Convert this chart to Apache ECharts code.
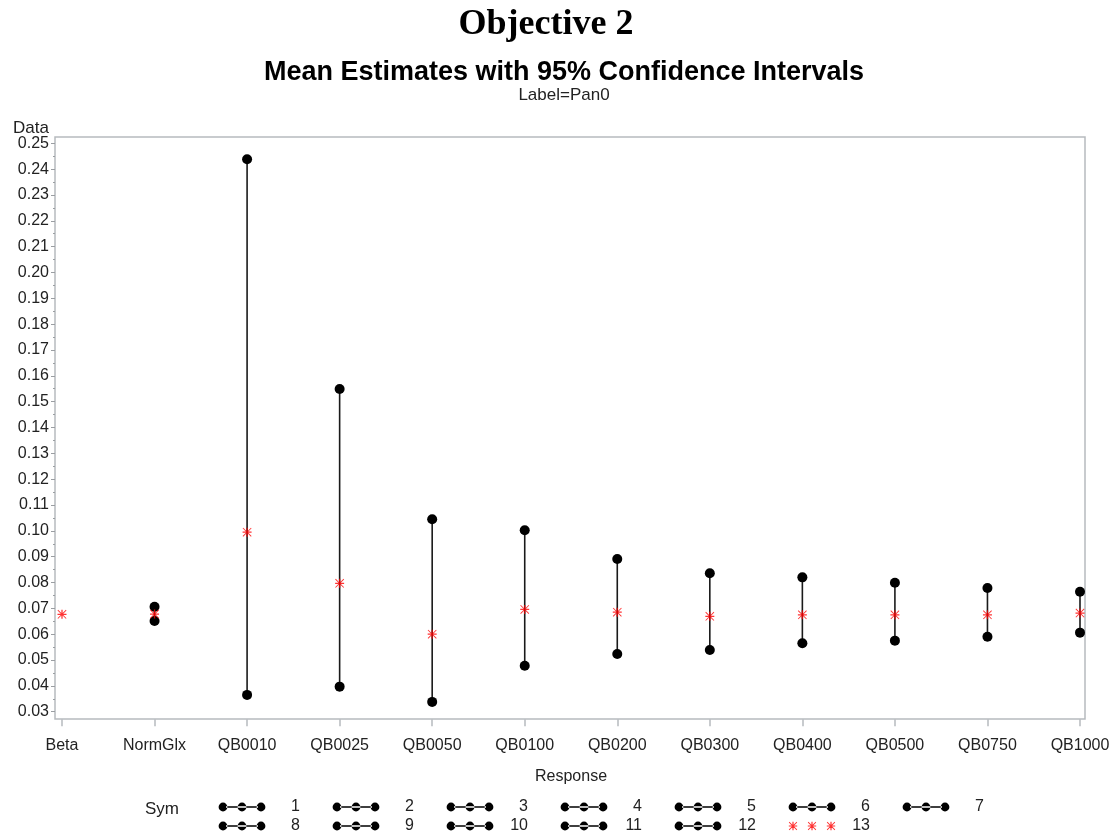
<!DOCTYPE html>
<html>
<head>
<meta charset="utf-8">
<script src="https://cdn.jsdelivr.net/npm/echarts@6/dist/echarts.min.js"></script>
<style>
  html, body { margin: 0; padding: 0; background: #fff; }
  #chart { width: 1116px; height: 836px; }
</style>
</head>
<body>
<div id="chart"></div>
<script>
// Response groups along the x axis
const categories = ['Beta', 'NormGlx', 'QB0010', 'QB0025', 'QB0050', 'QB0100',
                    'QB0200', 'QB0300', 'QB0400', 'QB0500', 'QB0750', 'QB1000'];
// 95% confidence limits (Beta has no interval)
const lowerCI = [null, 0.0651, 0.0365, 0.0397, 0.0338, 0.0478,
                 0.0523, 0.0539, 0.0565, 0.0575, 0.0590, 0.0606];
const upperCI = [null, 0.0706, 0.2438, 0.1549, 0.1045, 0.1002,
                 0.0891, 0.0836, 0.0820, 0.0799, 0.0779, 0.0764];
// Mean estimates
const means = [0.0677, 0.0678, 0.0995, 0.0797, 0.0600, 0.0696,
               0.0685, 0.0669, 0.0675, 0.0675, 0.0675, 0.0682];
// Symbol legend keys
const symKeys = ['1', '2', '3', '4', '5', '6', '7', '8', '9', '10', '11', '12'];
const meanKey = '13';
const legendRow1 = ['1', '2', '3', '4', '5', '6', '7'];
const legendRow2 = ['8', '9', '10', '11', '12', '13'];
// Y axis tick range
const yMin = 0.03, yMax = 0.25, yStep = 0.01;

const FRAME = '#b6babe';
const TEXT = '#222';
const SANS = 'Arial, "Liberation Sans", Helvetica, sans-serif';

// Eight-armed asterisk as a filled path centred at (cx, cy) with half-size r
function asteriskPath(cx, cy, r) {
  const w = r * 0.14, d = r * 0.14;
  const p = [];
  p.push(`M${cx - r},${cy - w}L${cx + r},${cy - w}L${cx + r},${cy + w}L${cx - r},${cy + w}Z`);
  p.push(`M${cx - w},${cy - r}L${cx + w},${cy - r}L${cx + w},${cy + r}L${cx - w},${cy + r}Z`);
  p.push(`M${cx - r},${cy - r + d}L${cx - r + d},${cy - r}L${cx + r},${cy + r - d}L${cx + r - d},${cy + r}Z`);
  p.push(`M${cx + r - d},${cy - r}L${cx + r},${cy - r + d}L${cx - r + d},${cy + r}L${cx - r},${cy + r - d}Z`);
  return p.join('');
}
function circlePath(cx, cy, r) {
  return `M${cx - r},${cy}A${r},${r} 0 1,0 ${cx + r},${cy}A${r},${r} 0 1,0 ${cx - r},${cy}Z`;
}
// tiny corner marks pin the icon's bounding box to 48 x 10
const ICON_BOX = 'M0,0L0.01,0M48,10L47.99,10';
const starSymbol = 'path://' + asteriskPath(10, 10, 10);
// legend key: three dots joined by a line
const dotLineIcon = 'path://' + ICON_BOX +
  circlePath(5, 5, 4.4) + circlePath(24, 5, 4.4) + circlePath(43, 5, 4.4) +
  'M8,4.3L40,4.3L40,5.7L8,5.7Z';
// legend key for the means: three separated asterisks
const starLineIcon = 'path://' + ICON_BOX +
  asteriskPath(5, 5, 4.2) + asteriskPath(24, 5, 4.2) + asteriskPath(43, 5, 4.2);

const intervalSeries = categories.map((c, i) => ({
  type: 'line',
  name: symKeys[i],
  xAxisIndex: 1,
  yAxisIndex: 1,
  data: lowerCI[i] == null ? [] : [[i, lowerCI[i]], [i, upperCI[i]]],
  symbol: 'circle',
  symbolSize: 10,
  showSymbol: true,
  itemStyle: { color: '#000' },
  lineStyle: { color: '#1a1a1a', width: 1.6 },
  silent: true,
  z: 2
}));

const meanSeries = {
  type: 'scatter',
  name: meanKey,
  xAxisIndex: 1,
  yAxisIndex: 1,
  data: means.map((m, i) => [i, m]),
  symbol: starSymbol,
  symbolSize: 9,
  itemStyle: { color: '#ff0000' },
  silent: true,
  z: 5
};

const legendText = {
  color: TEXT,
  fontFamily: SANS,
  fontSize: 16,
  rich: { n: { width: 29, align: 'right', color: TEXT, fontFamily: SANS, fontSize: 16 } }
};
function legendRow(names, top) {
  return {
    data: names.map(n => ({ name: n, icon: n === meanKey ? starLineIcon : dotLineIcon })),
    orient: 'horizontal',
    left: 218,
    top: top,
    padding: 0,
    itemWidth: 48,
    itemHeight: 10,
    itemGap: 32,
    selectedMode: false,
    formatter: '{n|{name}}',
    textStyle: legendText
  };
}

const chart = echarts.init(document.getElementById('chart'), null, { renderer: 'canvas' });
chart.setOption({
  animation: false,
  backgroundColor: '#fff',
  title: [
    { text: 'Objective 2', left: 541, top: 2, textAlign: 'center',
      textStyle: { fontFamily: '"Liberation Serif", "Times New Roman", serif', fontWeight: 'bold', fontSize: 36, color: '#000' } },
    { text: 'Mean Estimates with 95% Confidence Intervals', left: 559, top: 54, textAlign: 'center',
      textStyle: { fontFamily: SANS, fontWeight: 'bold', fontSize: 27, color: '#000' } },
    { text: 'Label=Pan0', left: 559, top: 82, textAlign: 'center',
      textStyle: { fontFamily: SANS, fontWeight: 'normal', fontSize: 17, color: TEXT } },
    { text: 'Data', left: 8, top: 115,
      textStyle: { fontFamily: SANS, fontWeight: 'normal', fontSize: 17, color: TEXT } },
    { text: 'Sym', left: 140, top: 796,
      textStyle: { fontFamily: SANS, fontWeight: 'normal', fontSize: 17, color: TEXT } }
  ],
  legend: [legendRow(legendRow1, 799), legendRow(legendRow2, 818)],
  grid: [
    // outer frame
    { left: 55, right: 31, top: 137, bottom: 117, show: true, borderColor: FRAME, borderWidth: 1.5,
      backgroundColor: 'transparent', containLabel: false },
    // data area
    { left: 62, right: 36, top: 143.3, bottom: 124.3, containLabel: false }
  ],
  xAxis: [
    { gridIndex: 0, type: 'value', show: false, min: 0, max: 1 },
    {
      gridIndex: 1,
      type: 'category',
      data: categories,
      boundaryGap: false,
      offset: 7.6,
      name: 'Response',
      nameLocation: 'middle',
      nameGap: 49,
      nameTextStyle: { fontFamily: SANS, fontSize: 16, color: TEXT },
      axisLine: { show: false },
      axisTick: { show: true, length: 7, lineStyle: { color: FRAME, width: 1.5 } },
      axisLabel: { margin: 18, fontFamily: SANS, fontSize: 16, color: TEXT, interval: 0 },
      splitLine: { show: false }
    }
  ],
  yAxis: [
    { gridIndex: 0, type: 'value', show: false, min: 0, max: 1 },
    {
      gridIndex: 1,
      type: 'value',
      min: yMin,
      max: yMax,
      interval: yStep,
      offset: 7,
      axisLine: { show: false },
      axisTick: { show: true, length: 4, lineStyle: { color: '#9a9ea2', width: 1 } },
      minorTick: { show: true, splitNumber: 2, length: 2, lineStyle: { color: '#9a9ea2', width: 1 } },
      axisLabel: { margin: 6, fontFamily: SANS, fontSize: 16, color: TEXT,
                   formatter: v => v.toFixed(2) },
      splitLine: { show: false },
      minorSplitLine: { show: false }
    }
  ],
  series: [...intervalSeries, meanSeries]
});
</script>
</body>
</html>
